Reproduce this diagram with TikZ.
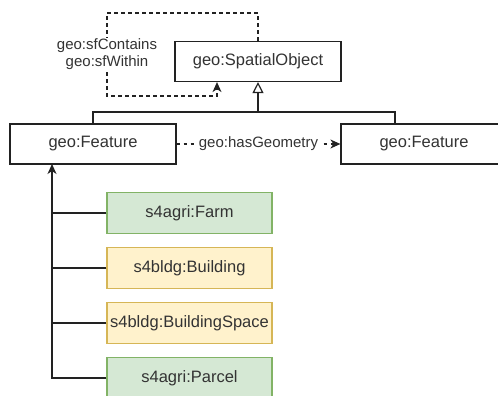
\documentclass[tikz,border=0pt]{standalone}
\usepackage{fontspec}
\setmainfont{Liberation Sans}
\usetikzlibrary{arrows.meta}
\definecolor{gfill}{HTML}{D5E8D4}
\definecolor{gdraw}{HTML}{82B366}
\definecolor{yfill}{HTML}{FFF2CC}
\definecolor{ydraw}{HTML}{D6B656}
\definecolor{txt}{HTML}{333333}
\definecolor{ln}{HTML}{222222}
\begin{document}
\begin{tikzpicture}[x=1pt,y=-1pt,
  every node/.style={text=txt},
  cls/.style={draw=ln, line width=1.2pt, fill=white, minimum width=166pt, minimum height=40pt, inner sep=0pt, font=\fontsize{16.5}{19}\selectfont},
  gbox/.style={draw=gdraw, line width=1.2pt, fill=gfill, minimum width=165pt, minimum height=41pt, inner sep=0pt, font=\fontsize{16.5}{19}\selectfont},
  ybox/.style={draw=ydraw, line width=1.2pt, fill=yfill, minimum width=165pt, minimum height=41pt, inner sep=0pt, font=\fontsize{16.5}{19}\selectfont},
  lbl/.style={fill=white, inner sep=1pt, font=\fontsize{15}{17}\selectfont, align=center},
  conn/.style={draw=ln, line width=1.2pt},
  dsh/.style={conn, dash pattern=on 3.5pt off 3.5pt},
  tip/.style={-{Stealth[length=10pt,width=9pt,inset=3pt]}}
]
\useasboundingbox (0,0) rectangle (498,396);
\fill[white] (0,0) rectangle (498,396);

\node[cls] (so) at (258,61.5) {geo:SpatialObject};
\node[cls] (fl) at (93,144) {geo:Feature};
\node[cls] (fr) at (424,144) {geo:Feature};

\node[gbox] (farm) at (189.5,213) {s4agri:Farm};
\node[ybox] (bldg) at (189.5,268) {s4bldg:Building};
\node[ybox] (space) at (189.5,323) {s4bldg:BuildingSpace};
\node[gbox] (parcel) at (189.5,378) {s4agri:Parcel};

% self loop on SpatialObject
\coordinate (lt) at (107,13);
\coordinate (lb) at (107,96);
\coordinate (ah) at (217,96);
\draw[dsh, tip] (so.north) |- (lt) -- (lb) -- (ah) -- (ah |- so.south);
\node[lbl] (loopl) at (107,54.5) {geo:sfContains\\geo:sfWithin};

% generalization
\coordinate (bus) at (258,112);
\coordinate (rj) at (395,124);
\draw[conn] (fl.north) |- (bus);
\draw[conn] (rj) |- (bus);
\draw[conn, -{Triangle[open, length=11pt, width=11pt]}] (bus) -- (so.south);

% hasGeometry
\draw[dsh, tip] (fl.east) -- (fr.west) node[lbl, midway, inner sep=2pt] (hg) {geo:hasGeometry};

% subclasses
\coordinate (ft) at (52,164);
\draw[conn, tip] (parcel.west) -| (ft);
\draw[conn] (farm.west) -- (farm.west -| ft);
\draw[conn] (bldg.west) -- (bldg.west -| ft);
\draw[conn] (space.west) -- (space.west -| ft);
\end{tikzpicture}
\end{document}
